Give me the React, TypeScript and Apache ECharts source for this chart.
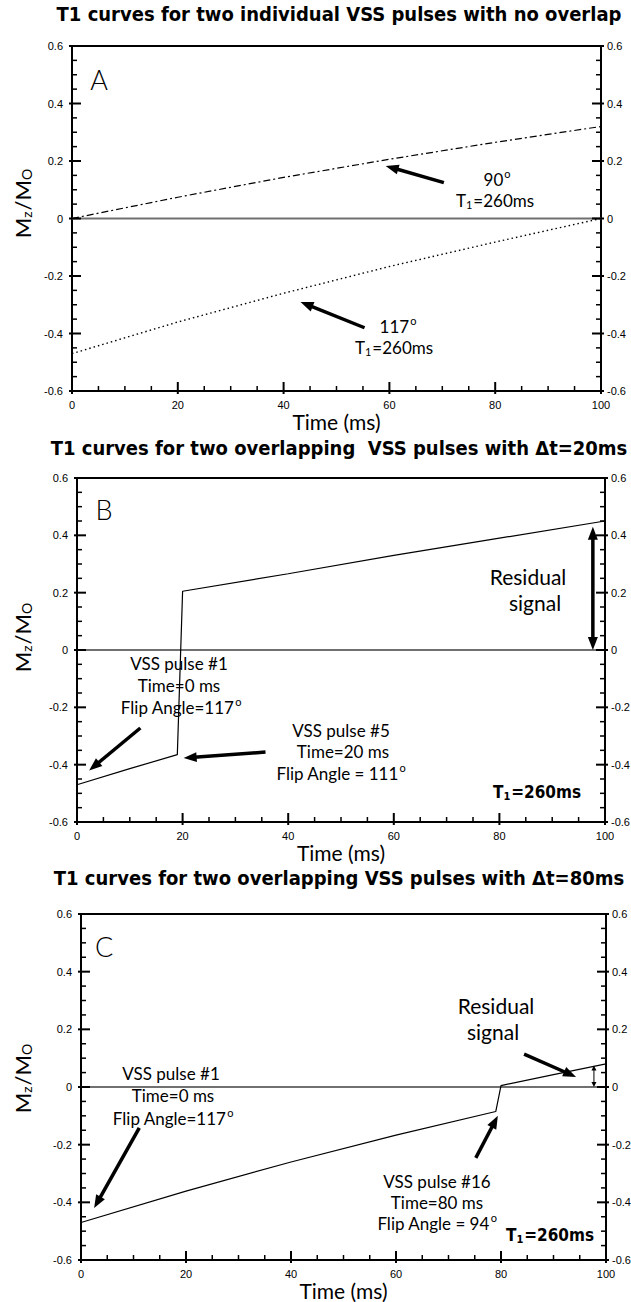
import React, { useEffect, useRef } from "react";
import * as echarts from "echarts";

// ---- data (Mz/Mo versus time, T1 = 260 ms) ----
const xTicks = [0, 20, 40, 60, 80, 100];
const yTicks = [-0.6, -0.4, -0.2, 0, 0.2, 0.4, 0.6];
const minorPerMajor = 4;
const baselineX = [0, 100];
const baselineY = [0, 0];

// Panel A: two separate pulses, 90 deg and 117 deg
const timeA = [0, 20, 40, 60, 80, 100];
const mz90 = [0, 0.074, 0.143, 0.206, 0.265, 0.32];
const mz117 = [-0.47, -0.36, -0.26, -0.167, -0.082, 0];

// Panel B: pulse #1 at 0 ms, pulse #5 at 20 ms
const timeB = [0, 10, 19, 20, 40, 60, 80, 100];
const mzB = [-0.47, -0.414, -0.365, 0.205, 0.266, 0.33, 0.39, 0.45];

// Panel C: pulse #1 at 0 ms, pulse #16 at 80 ms
const timeC = [0, 20, 40, 60, 79, 80, 90, 100];
const mzC = [-0.47, -0.361, -0.26, -0.167, -0.085, 0.005, 0.043, 0.08];

const titles = [
  "T1 curves for two individual VSS pulses with no overlap",
  "T1 curves for two overlapping  VSS pulses with \u0394t=20ms",
  "T1 curves for two overlapping VSS pulses with \u0394t=80ms",
];
const panelLetters = ["A", "B", "C"];

// ---- layout ----
const W = 631;
const H = 1302;
const FONT_ANN = 'Lato, "Open Sans", sans-serif';
const FONT_TICK = '"Liberation Sans", Arial, sans-serif';
const FONT_TITLE = '"DejaVu Sans Condensed", "DejaVu Sans", sans-serif';

const frames = [
  { left: 72, right: 601, top: 46, bottom: 391, titleY: 14, letterX: 99, letterY: 79, labelY: 203 },
  { left: 77, right: 605, top: 478, bottom: 822, titleY: 448, letterX: 104, letterY: 509, labelY: 637 },
  { left: 81, right: 606, top: 914, bottom: 1260, titleY: 878, letterX: 104, letterY: 946, labelY: 1078 },
];
const TITLE_X = 339;

// annotation text lines (pixel positions)
type Note = { x: number; y: number; text: string; size?: number; bold?: boolean };
const notes: Note[] = [
  { x: 497, y: 179, text: "{n|90}{sup|o}" },
  { x: 495, y: 200, text: "{n|T}{sub|1}{n|=260ms}" },
  { x: 398, y: 326, text: "{n|117}{sup|o}" },
  { x: 394, y: 347, text: "{n|T}{sub|1}{n|=260ms}" },

  { x: 528, y: 576, text: "{n|Residual}", size: 21 },
  { x: 535, y: 602, text: "{n|signal}", size: 21 },
  { x: 179, y: 663, text: "{n|VSS pulse #1}" },
  { x: 179, y: 685, text: "{n|Time=0 ms}" },
  { x: 181, y: 707, text: "{n|Flip Angle=117}{sup|o}" },
  { x: 341, y: 730, text: "{n|VSS pulse #5}" },
  { x: 343, y: 751, text: "{n|Time=20 ms}" },
  { x: 341, y: 773, text: "{n|Flip Angle = 111}{sup|o}" },
  { x: 537, y: 792, text: "{n|T}{sub|1}{n|=260ms}", bold: true },

  { x: 496, y: 1005, text: "{n|Residual}", size: 21 },
  { x: 493, y: 1031, text: "{n|signal}", size: 21 },
  { x: 171, y: 1073, text: "{n|VSS pulse #1}" },
  { x: 173, y: 1095, text: "{n|Time=0 ms}" },
  { x: 173, y: 1118, text: "{n|Flip Angle=117}{sup|o}" },
  { x: 437, y: 1181, text: "{n|VSS pulse #16}" },
  { x: 437, y: 1202, text: "{n|Time=80 ms}" },
  { x: 437, y: 1223, text: "{n|Flip Angle = 94}{sup|o}" },
  { x: 550, y: 1235, text: "{n|T}{sub|1}{n|=260ms}", bold: true },
];

// arrows in data coordinates: from tail to tip
type Arrow = { panel: number; from: number[]; to: number[]; both?: boolean; thin?: boolean };
const arrows: Arrow[] = [
  { panel: 0, from: [70.3, 0.125], to: [59.3, 0.183] },
  { panel: 0, from: [55.3, -0.38], to: [43.2, -0.29] },
  { panel: 1, from: [12.0, -0.272], to: [2.3, -0.42] },
  { panel: 1, from: [35.7, -0.356], to: [20.2, -0.377] },
  { panel: 1, from: [97.7, 0.0], to: [97.7, 0.43], both: true },
  { panel: 2, from: [11.1, -0.142], to: [2.5, -0.42] },
  { panel: 2, from: [75.2, -0.246], to: [79.4, -0.1] },
  { panel: 2, from: [84.4, 0.114], to: [94.3, 0.035] },
  { panel: 2, from: [97.7, 0.0], to: [97.7, 0.075], both: true, thin: true },
];

const pairs = (xs: number[], ys: number[]) => xs.map((x, k) => [x, ys[k]]);
const fmtY = (v: number) => {
  const r = Math.round(v * 10) / 10;
  return r === 0 ? "0" : String(r);
};
// values between consecutive major ticks
const subdivide = (ticks: number[], n: number) => {
  const out: number[] = [];
  for (let k = 0; k < ticks.length - 1; k++) {
    for (let j = 1; j < n; j++) out.push(ticks[k] + ((ticks[k + 1] - ticks[k]) * j) / n);
  }
  return out;
};

function richFor(size: number, bold: boolean) {
  const family = bold ? FONT_TITLE : FONT_ANN;
  const weight = bold ? "bold" : "normal";
  return {
    n: { fontSize: size, fontFamily: family, fontWeight: weight, fill: "#000", color: "#000", verticalAlign: "middle" },
    sup: {
      fontSize: Math.round(size * 0.62),
      fontFamily: family,
      fill: "#000",
      color: "#000",
      verticalAlign: "middle",
      padding: [0, 0, 12, 1],
    },
    sub: {
      fontSize: Math.round(size * 0.62),
      fontFamily: family,
      fontWeight: weight,
      fill: "#000",
      color: "#000",
      verticalAlign: "middle",
      padding: [9, 1, 0, 0],
    },
  };
}

const axisLineStyle = () => ({ show: true, onZero: false, lineStyle: { color: "#000", width: 2 } });
const tickLabel = (margin: number, formatter?: any) => ({
  show: true,
  color: "#000",
  fontSize: 11,
  fontFamily: FONT_TICK,
  margin,
  showMinLabel: true,
  showMaxLabel: true,
  ...(formatter ? { formatter } : {}),
});

function buildOption() {
  const grid: any[] = [];
  const xAxis: any[] = [];
  const yAxis: any[] = [];
  const series: any[] = [];

  frames.forEach((f, i) => {
    grid.push({
      left: f.left,
      top: f.top,
      width: f.right - f.left,
      height: f.bottom - f.top,
      containLabel: false,
      outerBoundsMode: "none",
    });
    const xRange = {
      min: xTicks[0],
      max: xTicks[xTicks.length - 1],
      interval: xTicks[1] - xTicks[0],
    };
    xAxis.push({
      type: "value",
      gridIndex: i,
      ...xRange,
      position: "bottom",
      splitLine: { show: false },
      axisLine: axisLineStyle(),
      axisTick: { show: false },
      axisLabel: tickLabel(8),
      name: "Time (ms)",
      nameLocation: "middle",
      nameGap: 20,
      nameTextStyle: { color: "#000", fontSize: 21, fontFamily: FONT_ANN },
    });
    xAxis.push({
      type: "value",
      gridIndex: i,
      ...xRange,
      position: "top",
      splitLine: { show: false },
      axisLine: axisLineStyle(),
      axisTick: { show: false },
      axisLabel: { show: false },
    });
    const yRange = {
      min: yTicks[0],
      max: yTicks[yTicks.length - 1],
      interval: yTicks[1] - yTicks[0],
    };
    yAxis.push({
      type: "value",
      gridIndex: i,
      ...yRange,
      position: "left",
      splitLine: { show: false },
      axisLine: axisLineStyle(),
      axisTick: { show: false },
      axisLabel: tickLabel(9, fmtY),
    });
    yAxis.push({
      type: "value",
      gridIndex: i,
      ...yRange,
      position: "right",
      splitLine: { show: false },
      axisLine: axisLineStyle(),
      axisTick: { show: false },
      axisLabel: tickLabel(6, fmtY),
    });
    series.push({
      type: "line",
      xAxisIndex: 2 * i,
      yAxisIndex: 2 * i,
      data: pairs(baselineX, baselineY),
      symbol: "none",
      lineStyle: { color: "#707070", width: 2 },
      z: 2,
      silent: true,
    });
  });

  const curve = (i: number, xs: number[], ys: number[], style: any) => ({
    type: "line",
    xAxisIndex: 2 * i,
    yAxisIndex: 2 * i,
    data: pairs(xs, ys),
    symbol: "none",
    lineStyle: { color: "#000", width: 1.2, ...style },
    z: 3,
    silent: true,
  });
  series.push(curve(0, timeA, mz90, { type: [7, 3, 2, 3] }));
  series.push(curve(0, timeA, mz117, { type: [1.5, 3], width: 1.4 }));
  series.push(curve(1, timeB, mzB, {}));
  series.push(curve(2, timeC, mzC, {}));

  return {
    animation: false,
    backgroundColor: "#fff",
    grid,
    xAxis,
    yAxis,
    series,
  };
}

const seg = (x1: number, y1: number, x2: number, y2: number, w: number) => ({
  type: "line",
  silent: true,
  z: 12,
  shape: { x1, y1, x2, y2 },
  style: { stroke: "#000", lineWidth: w },
});

// tick marks on the bottom, left and right edges of each frame (pointing inward)
function tickElements(chart: any, i: number) {
  const els: any[] = [];
  const yMin = yTicks[0];
  const xMin = xTicks[0];
  const xMax = xTicks[xTicks.length - 1];
  const corner = chart.convertToPixel({ gridIndex: i }, [xMin, yMin]);
  const bottomY = corner[1];
  const leftX = corner[0];
  const rightX = chart.convertToPixel({ gridIndex: i }, [xMax, yMin])[0];
  const major = 9;
  const out = 3;
  const minor = 5;
  xTicks.forEach((v) => {
    const x = chart.convertToPixel({ gridIndex: i }, [v, yMin])[0];
    els.push(seg(x, bottomY + out, x, bottomY - major, 2));
  });
  subdivide(xTicks, minorPerMajor).forEach((v) => {
    const x = chart.convertToPixel({ gridIndex: i }, [v, yMin])[0];
    els.push(seg(x, bottomY, x, bottomY - minor, 1.5));
  });
  yTicks.forEach((v) => {
    const y = chart.convertToPixel({ gridIndex: i }, [xMin, v])[1];
    els.push(seg(leftX - out, y, leftX + major, y, 2));
    els.push(seg(rightX + out, y, rightX - major, y, 2));
  });
  subdivide(yTicks, minorPerMajor).forEach((v) => {
    const y = chart.convertToPixel({ gridIndex: i }, [xMin, v])[1];
    els.push(seg(leftX, y, leftX + minor, y, 1.5));
    els.push(seg(rightX, y, rightX - minor, y, 1.5));
  });
  return els;
}

function arrowElements(chart: any, a: Arrow) {
  const p0 = chart.convertToPixel({ gridIndex: a.panel }, a.from);
  const p1 = chart.convertToPixel({ gridIndex: a.panel }, a.to);
  const dx = p1[0] - p0[0];
  const dy = p1[1] - p0[1];
  const len = Math.hypot(dx, dy);
  const ux = dx / len;
  const uy = dy / len;
  const px = -uy;
  const py = ux;
  const headLen = a.thin ? 5 : 13;
  const half = a.thin ? 2.5 : 5;
  const width = a.thin ? 1 : 3.5;
  const head = (tip: number[], sx: number, sy: number) => {
    const bx = tip[0] - sx * headLen;
    const by = tip[1] - sy * headLen;
    return {
      type: "polygon",
      silent: true,
      z: 20,
      shape: {
        points: [
          [tip[0], tip[1]],
          [bx + px * half, by + py * half],
          [bx - px * half, by - py * half],
        ],
      },
      style: { fill: "#000" },
    };
  };
  const els: any[] = [];
  const start = a.both ? [p0[0] + ux * headLen * 0.8, p0[1] + uy * headLen * 0.8] : p0;
  const end = [p1[0] - ux * headLen * 0.8, p1[1] - uy * headLen * 0.8];
  els.push({
    type: "line",
    silent: true,
    z: 20,
    shape: { x1: start[0], y1: start[1], x2: end[0], y2: end[1] },
    style: { stroke: "#000", lineWidth: width },
  });
  els.push(head(p1, ux, uy));
  if (a.both) els.push(head(p0, -ux, -uy));
  return els;
}

const centered = {
  align: "center",
  verticalAlign: "middle",
  textAlign: "center",
  textVerticalAlign: "middle",
};

function buildGraphics(chart: any) {
  const g: any[] = [];
  frames.forEach((f, i) => {
    g.push(...tickElements(chart, i));
    g.push({
      type: "text",
      x: TITLE_X,
      y: f.titleY,
      silent: true,
      style: {
        text: titles[i],
        fontFamily: FONT_TITLE,
        fontWeight: "bold",
        fontSize: 20,
        fill: "#000",
        ...centered,
      },
    });
    g.push({
      type: "text",
      x: f.letterX,
      y: f.letterY,
      silent: true,
      style: {
        text: panelLetters[i],
        fontFamily: FONT_ANN,
        fontWeight: 300,
        fontSize: 27,
        fill: "#000",
        ...centered,
      },
    });
    g.push({
      type: "text",
      x: 22,
      y: f.labelY,
      rotation: Math.PI / 2,
      silent: true,
      style: {
        text: "{n|M}{sub|z}{n|/M}{sub|O}",
        rich: richFor(22, false),
        fill: "#000",
        ...centered,
      },
    });
  });
  notes.forEach((n) => {
    g.push({
      type: "text",
      x: n.x,
      y: n.y,
      silent: true,
      z: 15,
      style: {
        text: n.text,
        rich: richFor(n.size || 17, !!n.bold),
        fill: "#000",
        ...centered,
      },
    });
  });
  arrows.forEach((a) => g.push(...arrowElements(chart, a)));
  return g;
}

export default function App() {
  const ref = useRef<HTMLDivElement>(null);
  useEffect(() => {
    const el = ref.current;
    if (!el) return;
    const chart = echarts.init(el, null, { renderer: "svg", width: W, height: H });
    chart.setOption(buildOption() as any);
    chart.setOption({ graphic: buildGraphics(chart) } as any);
    return () => chart.dispose();
  }, []);
  return (
    <div
      ref={ref}
      style={{ position: "absolute", left: 0, top: 0, width: W, height: H, background: "#fff" }}
    />
  );
}
